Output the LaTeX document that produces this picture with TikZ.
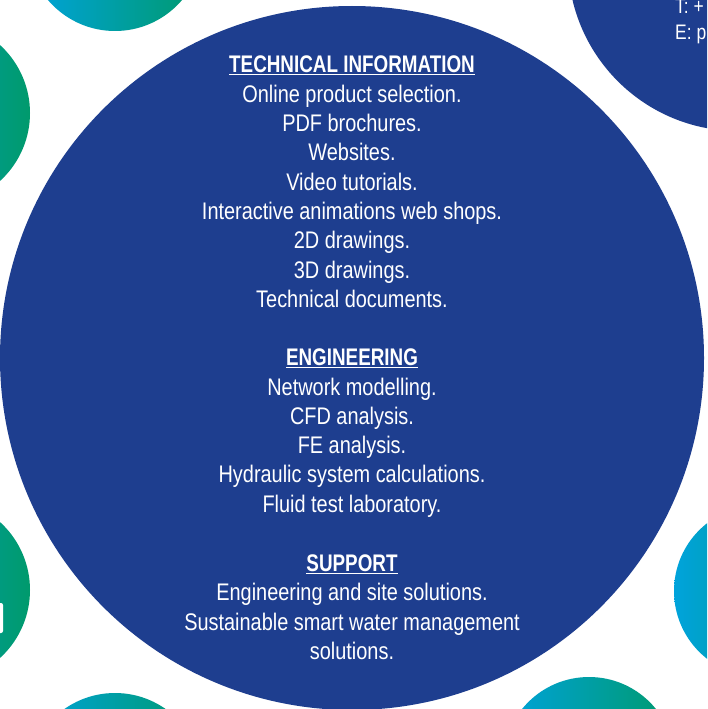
\documentclass[tikz,border=0pt]{standalone}
\usepackage{fontspec}
\setmainfont[FakeStretch=0.83, BoldFeatures={FakeStretch=0.785}]{Liberation Sans}
\usepackage{xcolor}
\usepackage{tikz}
\usetikzlibrary{positioning}
\definecolor{panelblue}{HTML}{1E3E8F}
\definecolor{dropcyan}{HTML}{00A3DC}
\definecolor{dropgreen}{HTML}{009A6C}
\tikzset{
  bigcircle/.style={circle, fill=panelblue, inner sep=0pt, minimum size=704pt},
  contactcircle/.style={circle, fill=panelblue, inner sep=0pt, minimum size=340pt},
  dropcircle/.style={circle, left color=dropcyan, right color=dropgreen, inner sep=0pt, minimum size=176pt},
  infotext/.style={align=center, text=white, inner sep=0pt, anchor=north, font=\fontsize{24}{29.3}\selectfont},
  contacttext/.style={align=left, text=white, inner sep=0pt, anchor=north west, font=\fontsize{21}{26}\selectfont}
}

\begin{document}
\begin{tikzpicture}[x=1pt, y=-1pt]

\useasboundingbox (0,0) rectangle (707,709);
\clip (0,0) rectangle (707,709);
\fill[white] (0,0) rectangle (707,709);

% Circles
\node[bigcircle] (main) at (352,358) {};
\node[contactcircle] (contact) at (738,-39) {};
\node[dropcircle] (dropTL) at (115,-57) {};
\node[dropcircle, minimum size=184pt] (dropL) at (-62,113) {};
\node[dropcircle, minimum size=184pt] (dropBL) at (-62,590) {};
\node[dropcircle] (dropB) at (115,781) {};
\node[dropcircle, minimum size=172pt] (dropBR) at (589,763) {};
\node[dropcircle, minimum size=172pt] (dropR) at (760,591) {};
\fill[white, rounded corners=2pt] (-10,603) rectangle (3,633);

% Texts
\node[contacttext] (phone) at (675,-1.5) {T: +\\E: p};
\node[infotext] (tech) at (352,56) {\textbf{\underline{TECHNICAL INFORMATION}}\\
  Online product selection.\\PDF brochures.\\Websites.\\Video tutorials.\\
  Interactive animations web shops.\\2D drawings.\\3D drawings.\\Technical documents.};
\node[infotext] (eng) at (352,348.8) {\textbf{\underline{ENGINEERING}}\\
  Network modelling.\\CFD analysis.\\FE analysis.\\Hydraulic system calculations.\\
  Fluid test laboratory.};
\node[infotext] (sup) at (352,554.5) {\textbf{\underline{SUPPORT}}\\
  Engineering and site solutions.\\Sustainable smart water management\\solutions.};

\end{tikzpicture}
\end{document}
